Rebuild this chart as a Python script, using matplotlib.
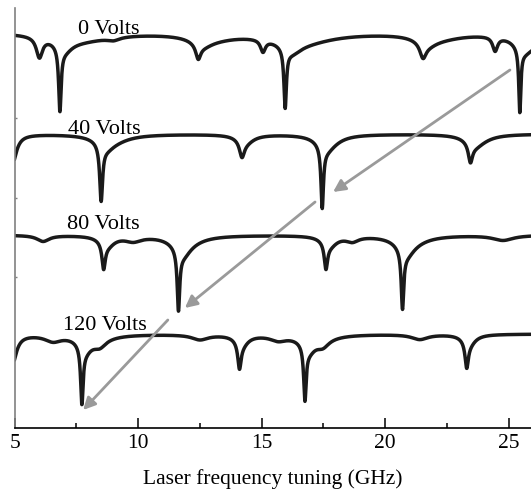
import numpy as np
import matplotlib
matplotlib.use('Agg')
import matplotlib.pyplot as plt

plt.rcParams['font.family'] = ['Liberation Serif', 'DejaVu Serif']

# frequency axis of the scan (GHz)
freq = np.linspace(4.5, 26.5, 4000)

labels = ['0 Volts', '40 Volts', '80 Volts', '120 Volts']

# top level of each trace (arbitrary units, stacked)
baselines = [396, 294, 193, 94]

# absorption features of each trace: centre (GHz), depth, half width (GHz)
centers_0 = [6.0, 6.83, 7.0, 7.6, 9.0, 12.43, 12.6, 13.0, 15.05, 15.95, 16.2, 16.7,
             21.53, 21.7, 22.2, 24.45, 25.45, 25.6, 26.0]
depths_0 = [20, 62, 12, 8, 3, 14, 8, 5, 12, 58, 12, 9,
            14, 8, 5, 14, 62, 12, 10]
widths_0 = [0.15, 0.06, 0.4, 1.5, 0.3, 0.12, 0.5, 1.2, 0.12, 0.06, 0.5, 1.5,
            0.15, 0.5, 1.2, 0.12, 0.05, 0.4, 0.8]

centers_40 = [4.9, 8.5, 8.7, 9.0, 14.2, 14.35, 17.45, 17.6, 17.8, 23.45, 23.6, 23.8]
depths_40 = [30, 55, 10, 6, 16, 8, 60, 12, 5, 18, 8, 5]
widths_40 = [0.2, 0.07, 0.4, 0.8, 0.12, 0.4, 0.06, 0.4, 0.6, 0.1, 0.4, 0.6]

centers_80 = [6.15, 8.6, 8.75, 9.8, 11.63, 11.8, 12.0, 17.6, 17.75, 18.67, 20.7, 20.85,
              21.1, 24.77]
depths_80 = [6, 25, 10, 5, 58, 16, 5, 25, 10, 5, 56, 16, 5, 5]
widths_80 = [0.3, 0.08, 0.35, 0.4, 0.06, 0.4, 0.8, 0.08, 0.35, 0.3, 0.06, 0.4, 0.8, 0.5]

centers_120 = [4.9, 6.55, 7.72, 7.85, 8.2, 8.45, 12.5, 14.1, 14.2, 15.67, 16.75, 16.9,
               17.2, 17.48, 21.4, 23.3, 23.4]
depths_120 = [30, 6, 55, 12, 5, 7, 5, 25, 10, 5, 52, 12, 5, 7, 5, 25, 10]
widths_120 = [0.2, 0.4, 0.06, 0.3, 0.8, 0.3, 0.4, 0.08, 0.3, 0.4, 0.06, 0.3, 0.8, 0.3,
              0.4, 0.08, 0.3]

features = [
    (centers_0, depths_0, widths_0),
    (centers_40, depths_40, widths_40),
    (centers_80, depths_80, widths_80),
    (centers_120, depths_120, widths_120),
]

# label anchor points (GHz, height)
label_x = [8.82, 8.62, 8.58, 8.66]
label_y = [398, 298, 203, 103]

# arrows following the shift of the resonance: (start, end)
arrows = [
    ((25.05, 358), (17.89, 236)),
    ((17.16, 226), (11.89, 120)),
    ((11.2, 108), (7.77, 18)),
]


def trace(base, centers, depths, widths):
    y = np.full_like(freq, base, dtype=float)
    for c, d, w in zip(centers, depths, widths):
        y -= d / (1 + ((freq - c) / w) ** 2)
    return y


fig = plt.figure(figsize=(5.31, 4.93), dpi=100)
ax = fig.add_axes([14.7 / 531, 65 / 493, 1 - 14.7 / 531, 420 / 493])

for base, (c, d, w) in zip(baselines, features):
    ax.plot(freq, trace(base, c, d, w), color='#1a1a1a', lw=2.5, solid_joinstyle='round')

for lab, lx, ly in zip(labels, label_x, label_y):
    ax.text(lx, ly, lab, ha='center', va='center', fontsize=16)

for (x0, y0), (x1, y1) in arrows:
    ax.annotate('', xy=(x1, y1), xytext=(x0, y0),
                arrowprops=dict(arrowstyle='-|>', color='#9a9a9a', lw=2,
                                mutation_scale=18, shrinkA=0, shrinkB=0))

ax.set_xlim(5, 5 + (531 - 14.7) / 24.7)
ax.set_ylim(0, 420)

ax.spines['top'].set_visible(False)
ax.spines['right'].set_visible(False)
ax.spines['left'].set_color('#808080')
ax.spines['left'].set_linewidth(1.2)
ax.spines['bottom'].set_linewidth(1.2)

ax.set_xticks([5, 10, 15, 20, 25])
ax.set_xticks([7.5, 12.5, 17.5, 22.5], minor=True)
ax.tick_params(axis='x', which='major', direction='in', length=7, width=1.1,
               labelsize=15.5, pad=4)
ax.tick_params(axis='x', which='minor', direction='in', length=3.5, width=1.1)
ax.set_yticks([310, 230, 151])
ax.set_yticklabels([])
ax.tick_params(axis='y', direction='in', length=1.5, width=1, color='#808080')

ax.set_xlabel('Laser frequency tuning (GHz)', fontsize=15.5, labelpad=12)

fig.savefig('out.png', dpi=100)
